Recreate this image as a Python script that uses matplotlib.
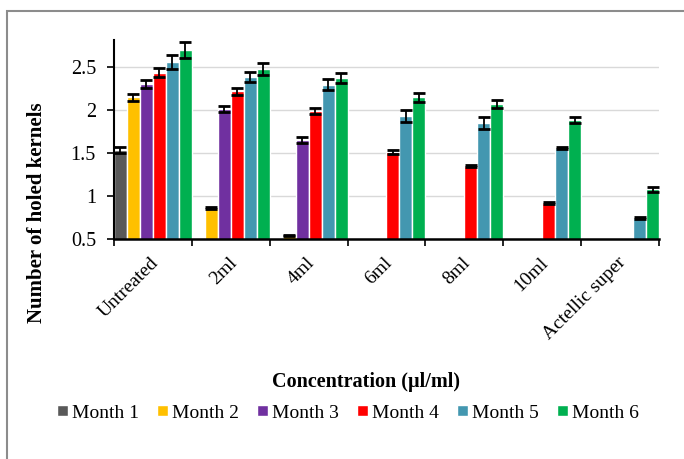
import numpy as np
import matplotlib.pyplot as plt
from matplotlib.patches import Rectangle

plt.rcParams['font.family'] = ['Liberation Serif', 'DejaVu Serif']

# ------------------------------- DATA ---------------------------------------
categories = ["Untreated", "2ml", "4ml", "6ml", "8ml", "10ml", "Actellic super"]
months = ["Month 1", "Month 2", "Month 3", "Month 4", "Month 5", "Month 6"]
colors = ["#595959", "#FFC000", "#7030A0", "#FF0000", "#4397B0", "#00B050"]

# mean number of holed kernels per month (0 = no damage recorded)
month1 = [1.53, 0, 0, 0, 0, 0, 0]
month2 = [2.145, 0.86, 0.54, 0, 0, 0, 0]
month3 = [2.30, 2.01, 1.65, 0, 0, 0, 0]
month4 = [2.43, 2.215, 1.985, 1.51, 1.35, 0.915, 0]
month5 = [2.555, 2.38, 2.29, 1.93, 1.845, 1.56, 0.745]
month6 = [2.69, 2.47, 2.37, 2.145, 2.065, 1.885, 1.075]

# standard errors
err1 = [0.033, 0, 0, 0, 0, 0, 0]
err2 = [0.041, 0.01, 0.01, 0, 0, 0, 0]
err3 = [0.048, 0.039, 0.033, 0, 0, 0, 0]
err4 = [0.05, 0.041, 0.031, 0.027, 0.01, 0.01, 0]
err5 = [0.078, 0.06, 0.066, 0.072, 0.072, 0.012, 0.01]
err6 = [0.091, 0.072, 0.06, 0.052, 0.045, 0.035, 0.025]

series = [month1, month2, month3, month4, month5, month6]
errors = [err1, err2, err3, err4, err5, err6]

# ------------------------------- PLOT ---------------------------------------
W, H = 684, 459
fig = plt.figure(figsize=(W / 100, H / 100), dpi=100)

# outer chart frame
fig.patches.append(Rectangle((7 / W, -0.1), 1.2, 1 - 11 / H + 0.1,
                             transform=fig.transFigure, fill=False,
                             edgecolor="#8c8c8c", linewidth=1.5))

ax = fig.add_axes([114 / W, 1 - 239 / H, (659 - 114) / W, (239 - 40) / H])

n = len(months)
width = 1.0 / n
base = np.arange(len(categories))
for j, (vals, errs) in enumerate(zip(series, errors)):
    x = base + (j + 0.5) * width
    vals = np.array(vals)
    errs = np.array(errs)
    ax.bar(x, vals, width=width, color=colors[j], edgecolor="white",
           linewidth=1.0, label=months[j], zorder=2)
    mask = vals > 0
    ax.errorbar(x[mask], vals[mask], yerr=errs[mask], fmt="none",
                ecolor="black", elinewidth=1.3, capsize=4, capthick=2.0,
                zorder=3)

ax.set_xlim(0, len(categories))
ax.set_ylim(0.5, 2.81)
ax.set_yticks([0.5, 1, 1.5, 2, 2.5])
ax.set_yticklabels(["0.5", "1", "1.5", "2", "2.5"], fontsize=14.5)
ax.yaxis.grid(True, color="#d9d9d9", linewidth=1.0, zorder=0)
ax.set_axisbelow(True)

# category boundaries as ticks, names centred between them
ax.set_xticks(np.arange(len(categories) + 1))
ax.set_xticklabels([])
ax.tick_params(axis="x", length=5, width=1.2, direction="out")
ax.tick_params(axis="y", length=5, width=1.2, direction="out", pad=8)
for i, name in enumerate(categories):
    ax.annotate(name, xy=(i + 0.5, 0.5), xycoords="data",
                xytext=(-2, -11), textcoords="offset points",
                rotation=45, rotation_mode="anchor", ha="right", va="top",
                fontsize=14, annotation_clip=False)

for side in ["top", "right"]:
    ax.spines[side].set_visible(False)
ax.spines["left"].set_linewidth(1.5)
ax.spines["bottom"].set_linewidth(1.8)

fig.text(37 / W, 1 - 213 / H, "Number of holed kernels", rotation=90,
         ha="center", va="center", fontsize=15, fontweight="bold")
fig.text(366 / W, 1 - 382 / H, "Concentration (µl/ml)",
         ha="center", va="center", fontsize=14.5, fontweight="bold")

fig.legend(loc="center", bbox_to_anchor=(348 / W, 1 - 413 / H), ncol=6,
           frameon=False, fontsize=14, handlelength=0.55, handleheight=0.55,
           handletextpad=0.2, columnspacing=0.95, borderaxespad=0)

fig.savefig("out.png", dpi=100)
